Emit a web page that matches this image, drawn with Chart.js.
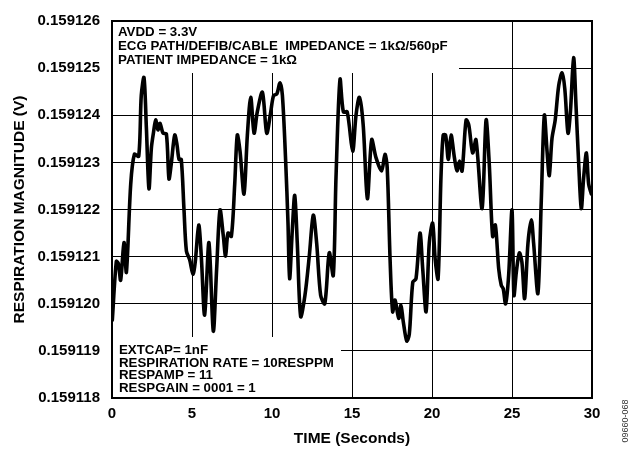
<!DOCTYPE html>
<html>
<head>
<meta charset="utf-8">
<script src="https://cdn.jsdelivr.net/npm/chart.js@4/dist/chart.umd.min.js"></script>
<style>
  html, body { margin: 0; padding: 0; background: #fff; }
  #wrap { width: 642px; height: 454px; position: relative; }
</style>
</head>
<body>
<div id="wrap"><canvas id="respChart" width="642" height="454"></canvas></div>
<script>
// time axis (seconds)
const timeSec = [
  0.02, 0.27, 0.40, 0.54, 0.75, 0.90, 1.17, 1.40, 1.67, 1.83, 2.00, 2.15, 2.31, 2.46, 2.60, 2.73, 2.87, 3.00, 3.19, 3.40,
  3.56, 3.70, 3.92, 4.06, 4.19, 4.33, 4.50, 4.65, 4.85, 5.06, 5.20, 5.42, 5.58, 5.79, 6.06, 6.33, 6.54, 6.75, 6.96, 7.10,
  7.25, 7.46, 7.67, 7.83, 8.00, 8.25, 8.46, 8.67, 8.88, 9.08, 9.40, 9.67, 9.92, 10.10, 10.30, 10.50, 10.65, 10.85, 11.00, 11.10,
  11.27, 11.42, 11.58, 11.79, 12.06, 12.33, 12.58, 12.79, 13.04, 13.30, 13.58, 13.83, 14.00, 14.25, 14.46, 14.70, 15.04, 15.25, 15.46, 15.70,
  15.96, 16.23, 16.50, 16.85, 17.06, 17.20, 17.38, 17.54, 17.69, 17.92, 18.06, 18.20, 18.42, 18.58, 18.80, 19.00, 19.25, 19.42, 19.63, 19.83,
  20.04, 20.20, 20.38, 20.56, 20.70, 20.85, 21.02, 21.19, 21.40, 21.56, 21.72, 21.88, 22.13, 22.30, 22.54, 22.75, 23.13, 23.38, 23.58, 23.79,
  23.96, 24.17, 24.33, 24.45, 24.60, 24.79, 25.00, 25.12, 25.27, 25.46, 25.62, 25.79, 26.00, 26.21, 26.35, 26.62, 26.83, 27.02, 27.19, 27.33,
  27.50, 27.70, 27.92, 28.13, 28.30, 28.50, 28.65, 28.85, 29.00, 29.17, 29.33, 29.48, 29.65, 29.79, 29.96
];

// respiration magnitude (V)
const magnitudeV = [
  0.15911965, 0.15912090, 0.15912085, 0.15912050, 0.15912130, 0.15912067, 0.15912254, 0.15912317, 0.15912313, 0.15912442,
  0.15912480, 0.15912372, 0.15912244, 0.15912330, 0.15912365, 0.15912390, 0.15912369, 0.15912383, 0.15912362, 0.15912360,
  0.15912265, 0.15912296, 0.15912358, 0.15912338, 0.15912306, 0.15912306, 0.15912199, 0.15912112, 0.15912094, 0.15912063,
  0.15912088, 0.15912167, 0.15912101, 0.15911976, 0.15912130, 0.15911942, 0.15912074, 0.15912199, 0.15912143, 0.15912101,
  0.15912150, 0.15912143, 0.15912254, 0.15912358, 0.15912324, 0.15912233, 0.15912358, 0.15912438, 0.15912362, 0.15912407,
  0.15912449, 0.15912362, 0.15912407, 0.15912442, 0.15912445, 0.15912469, 0.15912442, 0.15912306, 0.15912171, 0.15912053,
  0.15912157, 0.15912230, 0.15912129, 0.15911973, 0.15912018, 0.15912101, 0.15912188, 0.15912129, 0.15912018, 0.15912000,
  0.15912108, 0.15912060, 0.15912268, 0.15912476, 0.15912407, 0.15912407, 0.15912324, 0.15912400, 0.15912438, 0.15912379,
  0.15912223, 0.15912348, 0.15912310, 0.15912282, 0.15912317, 0.15912289, 0.15912094, 0.15911983, 0.15912008, 0.15911969,
  0.15911997, 0.15911963, 0.15911921, 0.15911935, 0.15912046, 0.15912053, 0.15912150, 0.15912074, 0.15911983, 0.15912129,
  0.15912171, 0.15912094, 0.15912053, 0.15912268, 0.15912358, 0.15912358, 0.15912306, 0.15912358, 0.15912310, 0.15912282,
  0.15912303, 0.15912282, 0.15912390, 0.15912379, 0.15912320, 0.15912348, 0.15912202, 0.15912390, 0.15912296, 0.15912143,
  0.15912167, 0.15912074, 0.15912039, 0.15912032, 0.15912000, 0.15912060, 0.15912199, 0.15912018, 0.15912067, 0.15912108,
  0.15912088, 0.15912011, 0.15912129, 0.15912178, 0.15912129, 0.15912022, 0.15912219, 0.15912400, 0.15912324, 0.15912272,
  0.15912351, 0.15912390, 0.15912463, 0.15912490, 0.15912456, 0.15912362, 0.15912407, 0.15912522, 0.15912421, 0.15912296,
  0.15912202, 0.15912268, 0.15912320, 0.15912254, 0.15912233
];

const xTicks = [0, 5, 10, 15, 20, 25, 30];
const yTicks = [0.159118, 0.159119, 0.15912, 0.159121, 0.159122, 0.159123, 0.159124, 0.159125, 0.159126];

const topNotes = ["AVDD = 3.3V", "ECG PATH/DEFIB/CABLE  IMPEDANCE = 1k\u03A9/560pF", "PATIENT IMPEDANCE = 1k\u03A9"];
const bottomNotes = ["EXTCAP= 1nF", "RESPIRATION RATE = 10RESPPM", "RESPAMP = 11", "RESPGAIN = 0001 = 1"];
const figureId = "09660-068";

const FONT = "'Liberation Sans', Arial, Helvetica, sans-serif";

// white note boxes over the grid + text, plus the figure number
const notesPlugin = {
  id: "notes",
  beforeDatasetsDraw(chart) {
    const { ctx, chartArea: a } = chart;
    ctx.save();
    ctx.fillStyle = "#fff";
    ctx.fillRect(a.left + 1, a.top + 1, 346, 51);
    ctx.fillRect(a.left + 1, a.bottom - 61, 228, 60);
    ctx.restore();
  },
  afterDatasetsDraw(chart) {
    const { ctx, chartArea: a } = chart;
    ctx.save();
    ctx.fillStyle = "#000";
    ctx.font = "bold 13.3px " + FONT;
    ctx.textBaseline = "middle";
    topNotes.forEach((t, i) => ctx.fillText(t, a.left + 6, a.top + 11 + i * 14));
    bottomNotes.forEach((t, i) => ctx.fillText(t, a.left + 7, a.bottom - 48 + i * 12.9));
    // frame
    ctx.lineWidth = 2;
    ctx.strokeStyle = "#000";
    ctx.strokeRect(a.left, a.top, a.right - a.left, a.bottom - a.top);
    // figure id
    ctx.translate(626, 421);
    ctx.rotate(-Math.PI / 2);
    ctx.font = "9px " + FONT;
    ctx.textAlign = "center";
    ctx.fillStyle = "#333";
    ctx.fillText(figureId, 0, 0);
    ctx.restore();
  }
};

const points = timeSec.map((t, i) => ({ x: t, y: magnitudeV[i] }));

new Chart(document.getElementById("respChart").getContext("2d"), {
  type: "line",
  data: {
    datasets: [{
      data: points,
      borderColor: "#000",
      borderWidth: 3.6,
      borderJoinStyle: "round",
      borderCapStyle: "round",
      pointRadius: 0,
      tension: 0.3,
      fill: false
    }]
  },
  options: {
    responsive: false,
    animation: false,
    devicePixelRatio: 1,
    layout: { padding: { left: 0, top: 14, right: 50, bottom: 0 } },
    plugins: { legend: { display: false }, tooltip: { enabled: false } },
    scales: {
      x: {
        type: "linear",
        min: 0,
        max: 30,
        afterBuildTicks: (s) => { s.ticks = xTicks.map(v => ({ value: v })); },
        afterFit: (s) => { s.height = 56; },
        grid: { color: "#000", lineWidth: 1, drawTicks: false },
        border: { display: false },
        ticks: { color: "#000", padding: 7, font: { family: FONT, size: 15, weight: "bold" } },
        title: {
          display: true,
          text: "TIME (Seconds)",
          color: "#000",
          padding: { top: 0, bottom: 6 },
          font: { family: FONT, size: 15.5, weight: "bold" }
        }
      },
      y: {
        type: "linear",
        min: 0.159118,
        max: 0.159126,
        afterBuildTicks: (s) => { s.ticks = yTicks.map(v => ({ value: v })); },
        afterFit: (s) => { s.width = 112; },
        grid: { color: "#000", lineWidth: 1, drawTicks: false },
        border: { display: false },
        ticks: {
          color: "#000",
          padding: 12,
          font: { family: FONT, size: 15, weight: "bold" },
          callback: (v) => v.toFixed(6)
        },
        title: {
          display: true,
          text: "RESPIRATION MAGNITUDE (V)",
          color: "#000",
          padding: { top: 10, bottom: 10 },
          font: { family: FONT, size: 15.5, weight: "bold" }
        }
      }
    }
  },
  plugins: [notesPlugin]
});
</script>
</body>
</html>
